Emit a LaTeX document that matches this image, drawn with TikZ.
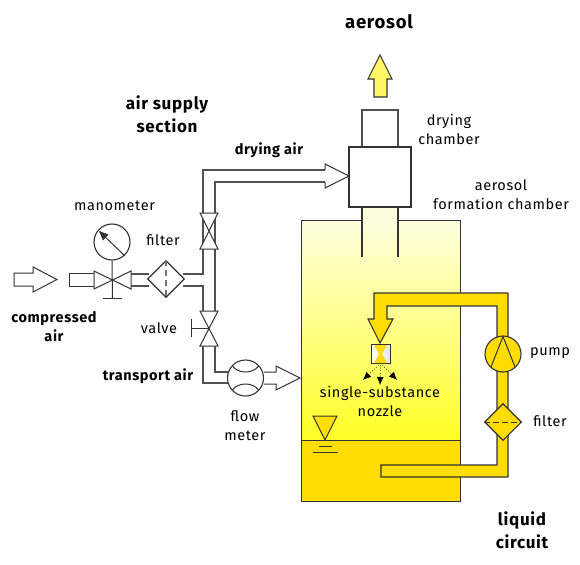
\documentclass[tikz,border=0pt]{standalone}
\usepackage{fontspec}
\setmainfont[LetterSpace=4]{Fira Sans}
\usetikzlibrary{shapes.geometric,arrows.meta}
\definecolor{ln}{HTML}{333333}
\definecolor{pp}{HTML}{505050}
\definecolor{liq}{HTML}{FFDD00}
\definecolor{pale}{HTML}{FFFFE0}
\tikzset{
 pipe/.style={draw=pp,line width=1.3pt,line join=miter},
 wline/.style={draw=ln,line width=1.1pt},
 thin line/.style={draw=ln,line width=1pt},
 disc/.style={circle,draw=ln,line width=1.1pt,minimum size=36pt,inner sep=0pt,fill=white},
 dia/.style={diamond,draw=ln,line width=1.1pt,minimum size=37pt,inner sep=0pt,fill=white,aspect=1},
 lbl/.style={font=\fontsize{14.5}{19}\selectfont,align=center,text=black,inner sep=0pt},
 blbl/.style={font=\fontsize{14.5}{19}\selectfont\bfseries,align=center,text=black,inner sep=0pt},
 big/.style={font=\fontsize{17}{23}\selectfont\bfseries,align=center,text=black,inner sep=0pt},
}
\begin{document}
\begin{tikzpicture}[x=1pt,y=-1pt]
\useasboundingbox (0,0) rectangle (580,564);
% chamber
\shade[top color=pale,bottom color=yellow!85!white,shading angle=0] (301,220) rectangle (460,440);
\fill[liq] (301,440) rectangle (460,501);
\fill[pale] (362,207) rectangle (398,220.5);
\draw[thin line] (362,220) -- (301,220) -- (301,501) -- (460,501) -- (460,220) -- (398,220);
\draw[thin line] (301,440) -- (460,440);
\draw[wline] (362,207) -- (362,257) (398,207) -- (398,257);
% drying chamber
\draw[pipe,fill=white] (362,147) -- (362,110) -- (398,110) -- (398,147);
\node[rectangle,draw=ln,line width=1.2pt,fill=white,minimum width=62pt,minimum height=60pt,inner sep=0pt] (dry) at (380,177) {};
% aerosol arrow
\draw[wline,fill=yellow!60!white] (374,97) -- (374,79) -- (368,79) -- (380,55) -- (392,79) -- (387,79) -- (387,97) -- cycle;
% compressed air arrow
\draw[thin line,fill=white] (14,273) -- (33,273) -- (33,267) -- (57,279.5) -- (33,292) -- (33,286) -- (14,286) -- cycle;
\draw[thin line] (94,273) -- (69,273) -- (69,286) -- (94,286);
% inlet valve and manometer
\coordinate (v0) at (112.5,279);
\node[disc] (mano) at (112,242) {};
\coordinate (stemb) at (112.5,298);
\draw[thin line] (mano.south) -- (stemb);
\draw[thin line] (103,298) -- (122,298);
\draw[thin line] (125,256) -- (100,232);
\fill[ln] (99,231) -- (108.5,234.5) -- (103,240.5) -- cycle;
\draw[thin line,fill=white] (94,271) -- (94,289) -- (131,271) -- (131,289) -- cycle;
% pipes to filter
\draw[pipe] (131,274) -- (149,274) (131,286) -- (149,286);
\node[dia] (f1) at (166,279) {};
\draw[line width=1.5pt,pp!80!white,dash pattern=on 6pt off 4pt] (f1.north) -- (f1.south);
% vertical pipes
\draw[pipe] (183,274) -- (203,274) -- (203,170) -- (325,170);
\draw[pipe] (215,249) -- (215,182) -- (325,182);
\draw[pipe] (215,213) -- (215,311);
\draw[pipe] (183,286) -- (203,286) -- (203,311);
\draw[pipe] (203,346) -- (203,383) -- (228,383);
\draw[pipe] (215,346) -- (215,372) -- (228,372);
\draw[thin line,fill=white] (200,213) -- (218,213) -- (200,249) -- (218,249) -- cycle;
\draw[thin line,fill=white] (200,311) -- (218,311) -- (200,346) -- (218,346) -- cycle;
\coordinate (v2) at (209,328);
\draw[thin line] (v2) -- (191,328) (191,319) -- (191,337);
% drying air arrow
\draw[thin line,fill=white] (325,170) -- (325,164) -- (349,176) -- (325,188) -- (325,182);
% flow meter
\node[disc] (flow) at (245.5,378) {};
\draw[thin line] (232.5,366) .. controls (238,374) and (253,374) .. (258.5,366);
\draw[thin line] (232.5,390) .. controls (238,382) and (253,382) .. (258.5,390);
\draw[thin line,fill=white] (264,372) -- (276,372) -- (276,366) -- (300,378) -- (276,390) -- (276,384) -- (264,384);
% liquid circuit
\draw[wline,fill=liq] (374,319) -- (374,293) -- (508,293) -- (508,477) -- (381,477) -- (381,465) -- (497,465) -- (497,306) -- (387,306) -- (387,319) -- (393,319) -- (380,343) -- (368,319) -- cycle;
\node[disc,fill=liq] (pump) at (503,354) {};
\draw[thin line] (491,367) -- (503,336.5) -- (515,367);
\node[dia,fill=liq] (f2) at (503,422) {};
\draw[line width=.9pt,ln,dash pattern=on 6pt off 3pt] (f2.west) -- (f2.east);
% nozzle
\node[rectangle,draw=ln,line width=1pt,left color=white,right color=blue!10!white,minimum width=19pt,minimum height=19pt,inner sep=0pt] (noz) at (380.5,354) {};
\fill[liq] (374,345) -- (387,345) -- (382,354) -- (387,363) -- (374,363) -- (379,354) -- cycle;
\draw[line width=.7pt,dotted,-{Latex[length=8pt,width=7pt]}] (noz.south) ++(-2,1) -- (363,380);
\draw[line width=.7pt,dotted,-{Latex[length=8pt,width=7pt]}] (noz.south) ++(0,1) -- (380,385);
\draw[line width=.7pt,dotted,-{Latex[length=8pt,width=7pt]}] (noz.south) ++(2,1) -- (397,380);
% level
\draw[thin line,fill=liq] (313,416) -- (337,416) -- (325,440) -- cycle;
\draw[thin line] (319,446) -- (332,446) (313,452) -- (338,452);
% labels
\node[big,font=\fontsize{18.5}{22}\selectfont\bfseries] (t1) at (379,22) {aerosol};
\node[big] (t2) at (167,114) {air supply\\section};
\node[blbl] (t3) at (269,150) {drying air};
\node[lbl] (t4) at (114.5,206) {manometer};
\node[lbl] (t5) at (163,240) {filter};
\node[lbl] (t6) at (159,328) {valve};
\node[blbl] (t7) at (54,327) {compressed\\air};
\node[blbl] (t8) at (148,376) {transport air};
\node[lbl] (t9) at (245,426) {flow\\meter};
\node[lbl] (t10) at (449,129) {drying\\chamber};
\node[lbl] (t11) at (501,195) {aerosol\\formation chamber};
\node[lbl] (t12) at (380,401) {single-substance\\nozzle};
\node[lbl] (t13) at (550,353) {pump};
\node[lbl] (t14) at (550,421) {filter};
\node[big] (t15) at (522,530) {liquid\\circuit};
\end{tikzpicture}
\end{document}
